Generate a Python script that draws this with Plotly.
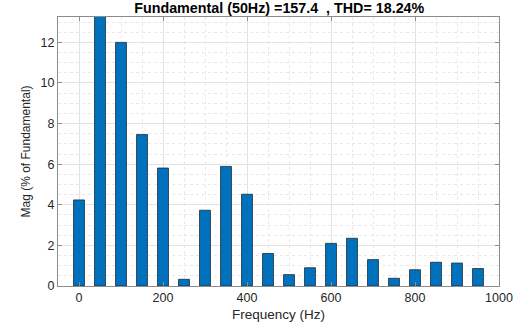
import plotly.graph_objects as go

freq = [0, 50, 100, 150, 200, 250, 300, 350, 400, 450, 500, 550, 600, 650, 700, 750, 800, 850, 900, 950]
mag = [4.24, 100, 12.0, 7.46, 5.81, 0.33, 3.73, 5.89, 4.52, 1.6, 0.56, 0.9, 2.1, 2.35, 1.3, 0.38, 0.8, 1.17, 1.13, 0.86]
x_ticks = [0, 200, 400, 600, 800, 1000]
y_ticks = [0, 2, 4, 6, 8, 10, 12]
title_text = "<b>Fundamental (50Hz) =157.4  , THD= 18.24%</b>"

fig = go.Figure(go.Bar(
    x=freq, y=mag, width=26,
    marker=dict(color="#0072BD", line=dict(color="#1a2a3a", width=0.8)),
))

axis_common = dict(
    showline=True, linecolor="#8c8c8c", linewidth=1, mirror="allticks",
    ticks="inside", ticklen=4, tickcolor="#8c8c8c",
    showgrid=True, gridcolor="#e3e3e3", gridwidth=1,
    zeroline=False, automargin=False,
    tickfont=dict(family="Liberation Sans, Arial", size=12.5, color="#262626"),
)

fig.update_layout(
    width=521, height=329,
    margin=dict(l=58, r=22, t=17, b=43),
    paper_bgcolor="white", plot_bgcolor="white",
    showlegend=False,
    title=dict(text=title_text, x=0.536, xanchor="center", y=0.975, yanchor="middle",
               font=dict(family="Liberation Sans, Arial", size=14.3, color="#000000")),
    xaxis=dict(range=[-50, 1000], tickvals=x_ticks,
               title=dict(text="Frequency (Hz)", standoff=5,
                          font=dict(family="Liberation Sans, Arial", size=13.5, color="#262626")),
               minor=dict(dtick=50, tick0=0, showgrid=True, gridcolor="#e8e8e8", griddash="dot", ticks=""),
               **axis_common),
    yaxis=dict(range=[0, 13.25], tickvals=y_ticks,
               title=dict(text="Mag (% of Fundamental)", standoff=7,
                          font=dict(family="Liberation Sans, Arial", size=12, color="#262626")),
               minor=dict(dtick=0.5, tick0=0, showgrid=True, gridcolor="#e8e8e8", griddash="dot", ticks=""),
               **axis_common),
    font=dict(family="Liberation Sans, Arial"),
)

fig.write_html("out.html", config={"displayModeBar": False},
               post_script="document.body.style.margin='0';")
